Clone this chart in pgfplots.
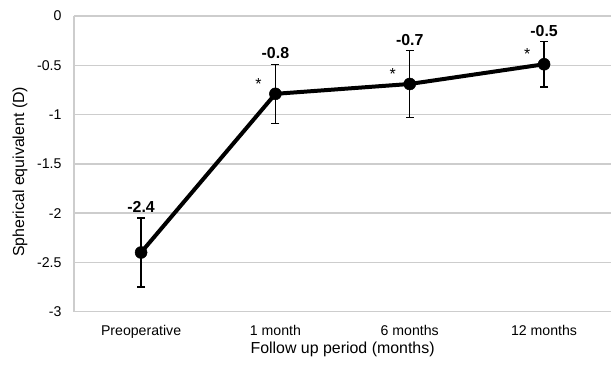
\documentclass[border=0pt]{standalone}
\usepackage{fontspec}
\setmainfont{Liberation Sans}
\usepackage{pgfplots}
\pgfplotsset{compat=1.18}
\definecolor{gridgray}{RGB}{205,205,205}
\pgfplotstableread{
x y e
0 -2.40 0.35
1 -0.79 0.30
2 -0.69 0.34
3 -0.49 0.23
}\datatable
\begin{document}
\begin{tikzpicture}
\begin{axis}[
 scale only axis, width=538bp, height=296bp,
 xmin=-0.5, xmax=3.5, ymin=-3, ymax=0,
 clip=false,
 xtick={0,1,2,3}, xticklabels={Preoperative,1 month,6 months,12 months},
 ytick={-3,-2.5,-2,-1.5,-1,-0.5,0}, yticklabels={-3,-2.5,-2,-1.5,-1,-0.5,0},
 axis x line=bottom, axis y line=left,
 axis line style={gridgray, line width=1.5bp, -},
 ymajorgrids, grid style={gridgray, line width=1.5bp},
 major tick length=0,
 tick label style={font=\fontsize{14.2}{16}\selectfont},
 yticklabel style={xshift=-9bp},
 xticklabel style={yshift=-10bp},
 ylabel={Spherical equivalent (D)}, xlabel={Follow up period (months)},
 label style={font=\fontsize{16}{18}\selectfont},
 xlabel style={at={(axis description cs:0.5,-0.128)}, anchor=center},
 ylabel style={at={(axis description cs:-0.1004,0.473)}, anchor=center},
]
\addplot[black, line width=4bp, mark=*, mark size=6bp, mark options={solid, fill=black, line width=0.5bp},
  error bars/.cd, y dir=both, y explicit,
  error bar style={line width=1.4bp, black},
  error mark options={rotate=90, mark size=4bp, line width=1.4bp, black}]
  table[x=x, y=y, y error=e]{\datatable};
\node[anchor=south, font=\bfseries\fontsize{16}{18}\selectfont, inner sep=1bp, yshift=4bp] at (axis cs:0,-2.05) {-2.4};
\node[anchor=south, font=\bfseries\fontsize{16}{18}\selectfont, inner sep=1bp, yshift=4bp] at (axis cs:1,-0.49) {-0.8};
\node[anchor=south, font=\bfseries\fontsize{16}{18}\selectfont, inner sep=1bp, yshift=4bp] at (axis cs:2,-0.35) {-0.7};
\node[anchor=south, font=\bfseries\fontsize{16}{18}\selectfont, inner sep=1bp, yshift=4bp] at (axis cs:3,-0.26) {-0.5};
\node[font=\fontsize{16}{18}\selectfont, inner sep=0, xshift=-17bp, yshift=10bp] at (axis cs:1,-0.79) {*};
\node[font=\fontsize{16}{18}\selectfont, inner sep=0, xshift=-17bp, yshift=10bp] at (axis cs:2,-0.69) {*};
\node[font=\fontsize{16}{18}\selectfont, inner sep=0, xshift=-17bp, yshift=10bp] at (axis cs:3,-0.49) {*};
\end{axis}
\path (current axis.south west) ++(-74bp,-60bp) rectangle ++(612bp,372bp);
\end{tikzpicture}
\end{document}
